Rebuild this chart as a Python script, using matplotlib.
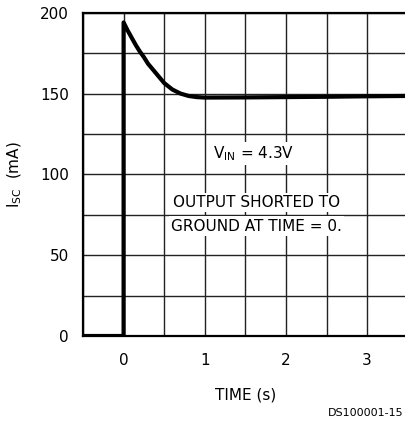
import numpy as np
import matplotlib.pyplot as plt

# ─── Data ───────────────────────────────────────────────────────────────────
time_s = [-0.5, 0.0, 0.0, 0.05, 0.1, 0.15, 0.2, 0.25, 0.3, 0.35, 0.4, 0.5,
          0.6, 0.7, 0.8, 0.9, 1.0, 1.5, 2.0, 2.5, 3.0, 3.5]
isc_ma = [0.0, 0.0, 194, 189, 184.5, 180, 176, 172.5, 168.5, 165.5, 162.5, 156.5,
          152.5, 150, 148.5, 147.8, 147.5, 147.6, 147.8, 148.0, 148.3, 148.5]

x_ticks = [0, 1, 2, 3]
y_ticks = [0, 50, 100, 150, 200]

# ─── Figure ─────────────────────────────────────────────────────────────────
fig = plt.figure(figsize=(4.06, 4.21), dpi=100)
ax = fig.add_axes([0.2044, 0.2019, 0.80, 0.7679])

ax.set_xlim(-0.5, 3.5)
ax.set_ylim(0, 200)

# grid every 0.5 s and 25 mA
for gx in np.arange(-0.5, 3.51, 0.5):
    ax.axvline(gx, color='#222222', lw=1.0, zorder=1)
for gy in np.arange(0, 201, 25):
    ax.axhline(gy, color='#222222', lw=1.0, zorder=1)

ax.plot(time_s, isc_ma, color='black', lw=3.0, solid_joinstyle='round', zorder=3)

ax.set_xticks(x_ticks)
ax.set_yticks(y_ticks)
ax.tick_params(length=0, labelsize=11, pad=10)
ax.tick_params(axis='x', pad=12)

for side in ['left', 'bottom', 'top']:
    ax.spines[side].set_linewidth(1.6)
ax.spines['right'].set_visible(False)

ax.set_xlabel('TIME (s)', fontsize=11, labelpad=14)
ax.set_ylabel(r'I$_{\mathregular{SC}}$  (mA)', fontsize=11, labelpad=12)

box = dict(facecolor='white', edgecolor='none', pad=1.5)
ax.text(1.6, 113, r'V$_{\mathregular{IN}}$ = 4.3V', fontsize=11,
        ha='center', va='center', bbox=box, zorder=4)
ax.text(1.64, 82.5, 'OUTPUT SHORTED TO', fontsize=11,
        ha='center', va='center', bbox=box, zorder=4)
ax.text(1.64, 68, 'GROUND AT TIME = 0.', fontsize=11,
        ha='center', va='center', bbox=box, zorder=4)

fig.text(0.995, 0.02, 'DS100001-15', fontsize=8, ha='right', va='center')

plt.savefig('out.png', dpi=100)
plt.close()
